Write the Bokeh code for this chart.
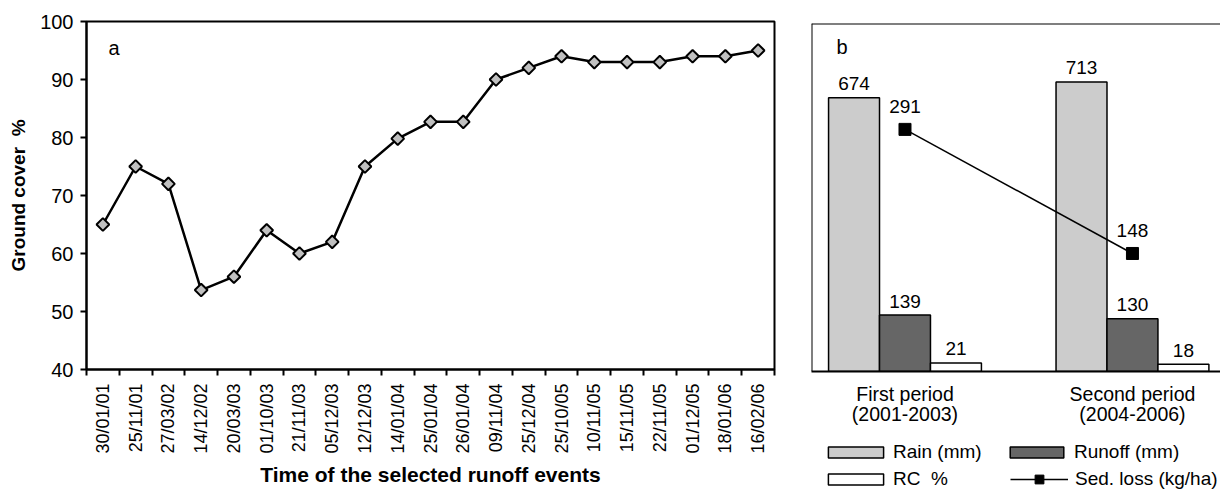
import math
from bokeh.plotting import figure
from bokeh.models import (Range1d, FixedTicker, Label, Legend, LegendItem, Span)
from bokeh.layouts import row, column
from bokeh.embed import file_html
from bokeh.resources import INLINE
from bokeh.core.properties import value

# ---------------- data ----------------
dates = ["30/01/01", "25/11/01", "27/03/02", "14/12/02", "20/03/03", "01/10/03",
         "21/11/03", "05/12/03", "12/12/03", "14/01/04", "25/01/04", "26/01/04",
         "09/11/04", "25/12/04", "25/10/05", "10/11/05", "15/11/05", "22/11/05",
         "01/12/05", "18/01/06", "16/02/06"]
ground_cover = [65, 75, 72, 53.7, 56, 64, 60, 62, 75, 79.8, 82.7, 82.7,
                90, 92, 94, 93, 93, 93, 94, 94, 95]

periods = ["First period\n(2001-2003)", "Second period\n(2004-2006)"]
rain_mm = [674, 713]
runoff_mm = [139, 130]
rc_pct = [21, 18]
sed_loss = [291, 148]
legend_labels = ["Rain (mm)", "Runoff (mm)", "RC\u00a0 %", "Sed. loss (kg/ha)"]

FONT = "Liberation Sans"

# ---------------- panel a ----------------
xs = list(range(1, len(dates) + 1))
pa = figure(width=784, height=490, x_range=Range1d(0.5, len(dates) + 0.5),
            y_range=Range1d(40, 100), output_backend="svg", toolbar_location=None,
            min_border_left=86, min_border_right=10, min_border_top=21,
            min_border_bottom=121)
pa.grid.visible = False
pa.outline_line_color = "black"
pa.outline_line_width = 2
pa.outline_line_alpha = 1

pa.line(xs, ground_cover, line_color="black", line_width=2.5)
pa.scatter(xs, ground_cover, marker="square", size=9, angle=math.pi / 4,
           fill_color="#c0c0c0", line_color="black", line_width=2)

xa = pa.xaxis[0]
xa.ticker = FixedTicker(ticks=xs, minor_ticks=[x - 0.5 for x in xs] + [xs[-1] + 0.5])
xa.major_label_overrides = {x: d for x, d in zip(xs, dates)}
xa.major_label_orientation = math.pi / 2
xa.major_tick_line_color = None
xa.major_tick_out = 0
xa.major_tick_in = 0
xa.minor_tick_out = 6
xa.minor_tick_in = 0
xa.minor_tick_line_color = "black"
xa.minor_tick_line_width = 2
xa.axis_line_width = 2
xa.axis_line_color = "black"
xa.major_label_standoff = 8
xa.major_label_text_font = FONT
xa.major_label_text_font_size = "18px"
xa.major_label_text_color = "black"
xa.axis_label = "Time of the selected runoff events"
xa.axis_label_text_font = FONT
xa.axis_label_text_font_size = "21px"
xa.axis_label_text_font_style = "bold"
xa.axis_label_text_color = "black"
xa.axis_label_standoff = 6

ya = pa.yaxis[0]
ya.ticker = FixedTicker(ticks=[40, 50, 60, 70, 80, 90, 100])
ya.major_tick_out = 6
ya.major_tick_in = 0
ya.major_tick_line_width = 2
ya.major_tick_line_color = "black"
ya.minor_tick_line_color = None
ya.axis_line_width = 2
ya.axis_line_color = "black"
ya.major_label_standoff = 7
ya.major_label_text_font = FONT
ya.major_label_text_font_size = "20px"
ya.major_label_text_color = "black"
ya.axis_label = "Ground cover\u00a0 %"
ya.axis_label_text_font = FONT
ya.axis_label_text_font_size = "19px"
ya.axis_label_text_font_style = "bold"
ya.axis_label_text_color = "black"
ya.axis_label_standoff = 8

pa.add_layout(Label(x=1.17, y=95.4, text="a", text_font=FONT, text_font_size="20px",
                    text_baseline="middle", text_align="left", text_color="black"))

# ---------------- panel b ----------------
groups = [1, 2]
bw = 0.224
pb = figure(width=436, height=428, x_range=Range1d(0.589, 2.387),
            y_range=Range1d(0, 857), y_axis_location=None,
            output_backend="svg", toolbar_location=None,
            min_border_left=27, min_border_right=0, min_border_top=23,
            min_border_bottom=57)
pb.extra_y_ranges = {"sed": Range1d(12, 413)}
pb.grid.visible = False
pb.outline_line_color = None

rain_x = [g - bw for g in groups]
rc_x = [g + bw for g in groups]
rain_kw = dict(fill_color="#cccccc", line_color="black", line_width=1.5)
runoff_kw = dict(fill_color="#666666", line_color="black", line_width=1.5)
rc_kw = dict(fill_color="white", line_color="black", line_width=1.5)
line_kw = dict(line_color="black", line_width=1.5)
pt_kw = dict(marker="square", fill_color="black", line_color="black")

pb.vbar(x=rain_x, top=rain_mm, width=bw, **rain_kw)
pb.vbar(x=groups, top=runoff_mm, width=bw, **runoff_kw)
pb.vbar(x=rc_x, top=rc_pct, width=bw, **rc_kw)
pb.line(groups, sed_loss, y_range_name="sed", **line_kw)
pb.scatter(groups, sed_loss, y_range_name="sed", size=12, **pt_kw)

lab_kw = dict(text_align="center", text_baseline="middle", y_offset=-14,
              text_font=value(FONT), text_font_size="19px", text_color="black")
pb.text(x=rain_x, y=rain_mm, text=[str(v) for v in rain_mm], **lab_kw)
pb.text(x=groups, y=runoff_mm, text=[str(v) for v in runoff_mm], **lab_kw)
pb.text(x=rc_x, y=rc_pct, text=[str(v) for v in rc_pct], **lab_kw)
sed_kw = dict(lab_kw)
sed_kw["y_offset"] = -23
pb.text(x=groups, y=sed_loss, text=[str(v) for v in sed_loss], y_range_name="sed", **sed_kw)

pb.add_layout(Span(location=857, dimension="width", line_color="black", line_width=2))
pb.add_layout(Span(location=0.589, dimension="height", line_color="black", line_width=2))

xb = pb.xaxis[0]
xb.ticker = FixedTicker(ticks=groups)
xb.major_label_overrides = {g: p for g, p in zip(groups, periods)}
xb.major_tick_line_color = None
xb.major_tick_out = 0
xb.major_tick_in = 0
xb.minor_tick_line_color = None
xb.axis_line_width = 2
xb.axis_line_color = "black"
xb.major_label_standoff = 11
xb.major_label_text_font = FONT
xb.major_label_text_font_size = "19.5px"
xb.major_label_text_color = "black"
xb.major_label_text_line_height = 0.95

pb.add_layout(Label(x=0.699, y=798, text="b", text_font=FONT, text_font_size="20px",
                    text_baseline="middle", text_align="left", text_color="black"))

# ---------------- legend strip under panel b ----------------
pl = figure(width=436, height=62, x_range=Range1d(0.589, 2.387), y_range=Range1d(0, 857),
            x_axis_location=None, y_axis_location=None, output_backend="svg",
            toolbar_location=None, min_border=0)
pl.grid.visible = False
pl.outline_line_color = None

# hidden copies of the series, used only to draw the legend keys
g_rain = pl.vbar(x=rain_x, top=rain_mm, width=bw, visible=False, **rain_kw)
g_runoff = pl.vbar(x=groups, top=runoff_mm, width=bw, visible=False, **runoff_kw)
g_rc = pl.vbar(x=rc_x, top=rc_pct, width=bw, visible=False, **rc_kw)
g_line = pl.line(x=groups, y=sed_loss, visible=False, **line_kw)
g_pt = pl.scatter(x=groups, y=sed_loss, visible=False, **pt_kw)

leg_common = dict(margin=0, padding=0, border_line_color=None, background_fill_alpha=0,
                  label_text_font=FONT, label_text_font_size="19px",
                  label_text_color="black", label_height=22)


def add_leg(label, renderers, loc, gw, gh, standoff):
    pl.add_layout(Legend(items=[LegendItem(label=label, renderers=renderers)],
                         location=loc, glyph_width=gw, glyph_height=gh,
                         label_standoff=standoff, **leg_common))


add_leg(legend_labels[0], [g_rain], (10, 27), 69, 14, 3)
add_leg(legend_labels[1], [g_runoff], (192, 27), 67, 14, 4)
add_leg(legend_labels[2], [g_rc], (10, 0), 69, 14, 3)
add_leg(legend_labels[3], [g_line, g_pt], (199, 0), 58, 22, 7)

layout = row(pa, column(pb, pl))
open("out.html", "w").write(file_html(layout, INLINE))
